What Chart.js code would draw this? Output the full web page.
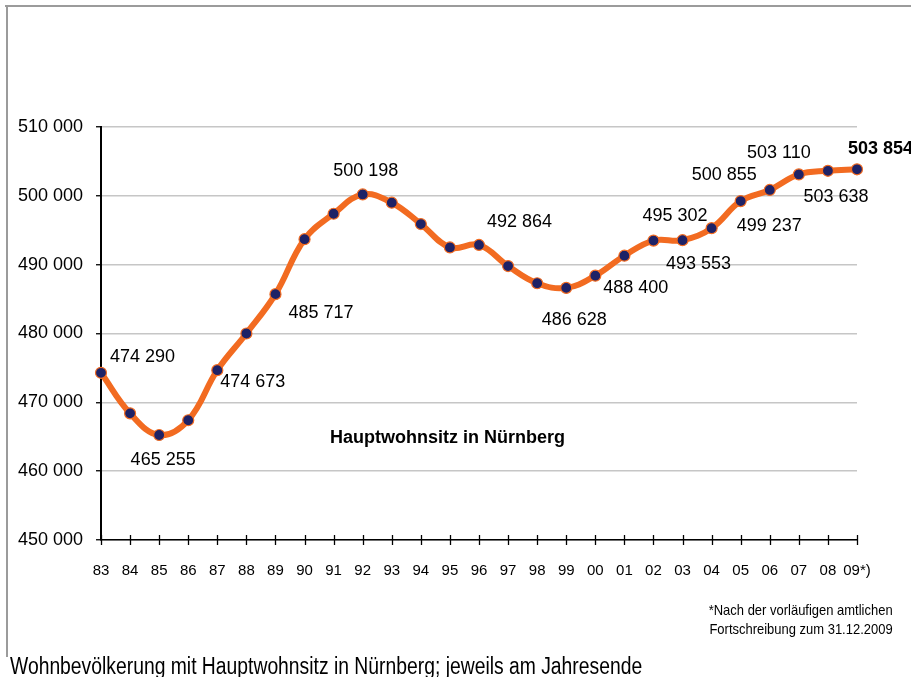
<!DOCTYPE html>
<html><head><meta charset="utf-8">
<script src="https://cdn.jsdelivr.net/npm/chart.js@4/dist/chart.umd.min.js"></script>
<style>
html,body{margin:0;padding:0;background:#fff;width:911px;height:677px;overflow:hidden}
#c{position:absolute;left:0;top:0}
.ft{position:absolute;top:5px;left:5px;width:906px;height:2px;background:#9b9b9b}
.fl{position:absolute;top:5px;left:6px;width:2px;height:652px;background:#9b9b9b}
.t{position:absolute;white-space:nowrap;color:#000}
#title{left:330px;top:427px;font:bold 18px "Liberation Sans",Arial,sans-serif}
#note{right:18px;top:600px;text-align:right;font:15px/19px "Liberation Sans",Arial,sans-serif;transform:scaleX(0.865);transform-origin:right top}
#cap{left:10px;top:654.5px;font:23px/23px "Liberation Sans",Arial,sans-serif;background:#fff;transform:scaleX(0.84);transform-origin:left top}
</style></head>
<body>
<div class="ft"></div><div class="fl"></div>
<canvas id="c" width="911" height="677"></canvas>
<div class="t" id="title">Hauptwohnsitz in Nürnberg</div>
<div class="t" id="note">*Nach der vorläufigen amtlichen<br>Fortschreibung zum 31.12.2009</div>
<div class="t" id="cap">Wohnbevölkerung mit Hauptwohnsitz in Nürnberg; jeweils am Jahresende</div>
<script>
const years = ["83","84","85","86","87","88","89","90","91","92","93","94","95","96","97","98","99","00","01","02","03","04","05","06","07","08","09*)"];
const population = [474290,468400,465255,467400,474673,480000,485717,493700,497400,500198,499000,495900,492500,492864,489800,487300,486628,488400,491300,493500,493553,495302,499237,500855,503110,503638,503854];
const yTicks = [450000,460000,470000,480000,490000,500000,510000];
// which points carry a value label, and where it sits relative to the point
const labelIdx = [0,2,4,6,9,13,16,17,20,21,22,23,24,25,26];
const labelPos = {
  0:['left',9,-16], 2:['center',4,25], 4:['left',3,12], 6:['left',13,19],
  9:['center',3,-23], 13:['left',8,-23], 16:['center',8,32], 17:['left',8,12],
  20:['center',16,24], 21:['right',-4,-12], 22:['left',-4,25], 23:['right',-13,-15],
  24:['center',-20,-21], 25:['center',8,26], 26:['left',-9,-20]
};
const fmt = v => String(v).replace(/\B(?=(\d{3})+(?!\d))/g,' ');
const SANS = '"Liberation Sans",Arial,sans-serif';

const extras = {
  id:'extras',
  afterDraw(chart){
    const ctx = chart.ctx, xs = chart.scales.x, ca = chart.chartArea;
    ctx.save();
    ctx.strokeStyle = '#000'; ctx.lineWidth = 1.3;
    for(let i=0;i<years.length;i++){
      const x = Math.round(xs.getPixelForTick(i))+0.5;
      ctx.beginPath(); ctx.moveTo(x, ca.bottom-5); ctx.lineTo(x, ca.bottom+5); ctx.stroke();
    }
    const meta = chart.getDatasetMeta(0);
    ctx.fillStyle = '#000'; ctx.textBaseline = 'middle';
    labelIdx.forEach(i=>{
      const p = meta.data[i], pos = labelPos[i];
      ctx.font = (i===population.length-1?'bold ':'') + '18px ' + SANS;
      ctx.textAlign = pos[0];
      ctx.fillText(fmt(population[i]), p.x+pos[1], p.y+pos[2]);
    });
    ctx.restore();
  }
};

new Chart(document.getElementById('c'), {
  type:'line',
  data:{labels:years, datasets:[{
    data:population, borderColor:'#F26B21', borderWidth:6, tension:0.4,
    pointRadius:5.5, pointBackgroundColor:'#1E2266', pointBorderColor:'#F26B21', pointBorderWidth:1.2,
    fill:false
  }]},
  options:{
    responsive:false, animation:false, devicePixelRatio:1,
    layout:{padding:{left:0,top:127,right:54,bottom:87}},
    plugins:{legend:{display:false}, tooltip:{enabled:false}, title:{display:false}},
    scales:{
      x:{
        grid:{display:false, drawTicks:false},
        border:{display:true,color:'#000',width:1.5},
        ticks:{padding:22, autoSkip:false, maxRotation:0, color:'#000', font:{family:SANS,size:15}},
        afterFit(s){ s.height = 50; }
      },
      y:{
        min:450000, max:510000,
        afterBuildTicks(s){ s.ticks = yTicks.map(v=>({value:v})); },
        grid:{color:'#c6c6c6', lineWidth:1.5, tickColor:'#000', tickLength:5, tickWidth:1.3},
        border:{display:true,color:'#000',width:2},
        ticks:{padding:13, color:'#000', font:{family:SANS,size:18}, callback:v=>fmt(v)},
        afterFit(s){ s.width = 101; }
      }
    }
  },
  plugins:[extras]
});
</script>
</body></html>
